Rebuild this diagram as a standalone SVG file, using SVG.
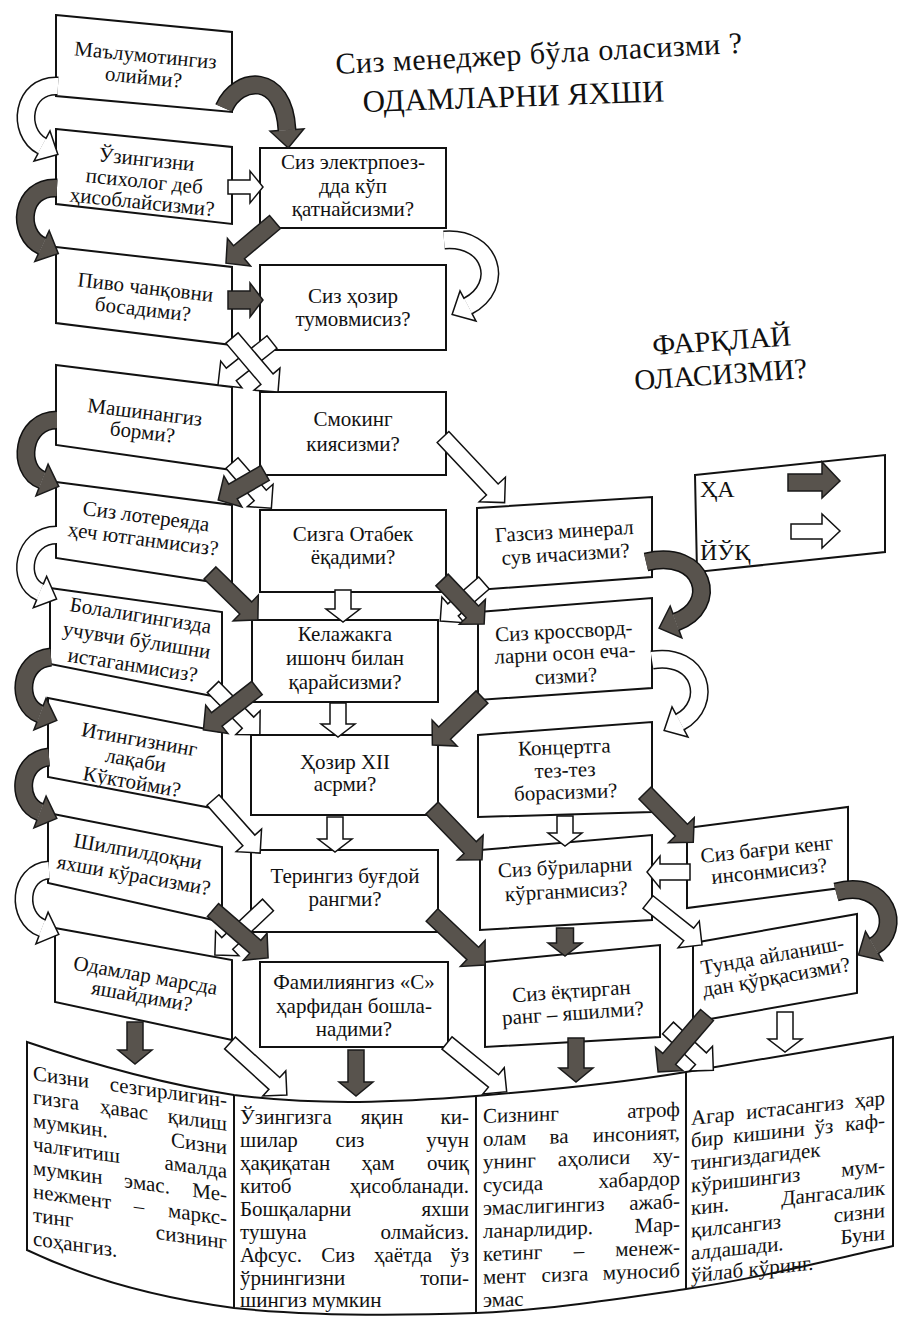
<svg xmlns="http://www.w3.org/2000/svg" width="901" height="1323" viewBox="0 0 901 1323">
<style>
text{font-family:"Liberation Serif","Times New Roman",serif;fill:#111}
.bx{fill:#fff;stroke:#111;stroke-width:2}
.t{font-size:21px;text-anchor:middle}
.p{font-size:21px}
.e{text-anchor:end}
.m{text-anchor:middle}
.dk{fill:#58534d;stroke:#1a1a1a;stroke-width:1.5}
.wt{fill:#fff;stroke:#111;stroke-width:1.5}
.so{fill:none;stroke:#111;stroke-width:19}
.sd{fill:none;stroke:#58534d;stroke-width:16}
.sw{fill:none;stroke:#fff;stroke-width:16}
</style>
<defs><path id="hd" d="M0,-8 L0,-17 L18,0 L0,17 L0,8"/></defs>
<rect width="901" height="1323" fill="#fff"/>

<g id="titles">
<text x="336" y="74" font-size="30" textLength="407" transform="rotate(-3 336 74)">Сиз менеджер бўла оласизми ?</text>
<text x="363" y="112" font-size="31" transform="rotate(-2 363 112)">ОДАМЛАРНИ ЯХШИ</text>
<text x="653" y="355" font-size="29" transform="rotate(-4 653 355)">ФАРҚЛАЙ</text>
<text x="635" y="390" font-size="29" transform="rotate(-4 635 390)">ОЛАСИЗМИ?</text>
</g>

<g id="n1"><polygon class="bx" points="56,15 232,32 232,112 56,96"/>
<text class="t" transform="rotate(5.5 144 72)"><tspan x="144" y="62">Маълумотингиз</tspan><tspan x="144" y="84">олийми?</tspan></text></g>
<g id="n2"><polygon class="bx" points="56,129 232,147 232,224 56,204"/>
<text class="t" transform="rotate(5.8 144 185)"><tspan x="144" y="166">Ўзингизни</tspan><tspan x="144" y="188">психолог деб</tspan><tspan x="144" y="209">ҳисоблайсизми?</tspan></text></g>
<g id="n3"><polygon class="bx" points="56,247 232,267 232,345 56,323"/>
<text class="t" transform="rotate(6.5 144 300)"><tspan x="144" y="294">Пиво чанқовни</tspan><tspan x="144" y="316">босадими?</tspan></text></g>
<g id="n4"><polygon class="bx" points="56,365 232,387 232,470 56,445"/>
<text class="t" transform="rotate(7 144 420)"><tspan x="144" y="419">Машинангиз</tspan><tspan x="144" y="439">борми?</tspan></text></g>
<g id="n5"><polygon class="bx" points="56,482 232,505 232,585 56,558"/>
<text class="t" transform="rotate(7.5 144 533)"><tspan x="144" y="523">Сиз лотереяда</tspan><tspan x="144" y="546">ҳеч ютганмисиз?</tspan></text></g>
<g id="n6"><polygon class="bx" points="50,588 222,612 222,698 50,664"/>
<text class="t" transform="rotate(9 136 645)"><tspan x="136" y="622">Болалигингизда</tspan><tspan x="136" y="647">учувчи бўлишни</tspan><tspan x="136" y="672">истаганмисиз?</tspan></text></g>
<g id="n7"><polygon class="bx" points="48,698 222,732 222,810 48,777"/>
<text class="t" transform="rotate(10 135 765)"><tspan x="135" y="746">Итингизнинг</tspan><tspan x="135" y="767">лақаби</tspan><tspan x="135" y="789">Кўктойми?</tspan></text></g>
<g id="n8"><polygon class="bx" points="48,813 222,847 222,922 48,883"/>
<text class="t" transform="rotate(10 135 868)"><tspan x="135" y="858">Шилпилдоқни</tspan><tspan x="135" y="882">яхши кўрасизми?</tspan></text></g>
<g id="n9"><polygon class="bx" points="55,928 232,960 232,1040 55,1002"/>
<text class="t" transform="rotate(10 143 990)"><tspan x="143" y="982">Одамлар марсда</tspan><tspan x="143" y="1003">яшайдими?</tspan></text></g>

<g id="nA"><rect class="bx" x="260" y="148" width="186" height="80"/>
<text class="t"><tspan x="353" y="169">Сиз электрпоез-</tspan><tspan x="353" y="193">дда кўп</tspan><tspan x="353" y="216">қатнайсизми?</tspan></text></g>
<g id="nB"><rect class="bx" x="260" y="265" width="186" height="85"/>
<text class="t"><tspan x="353" y="303">Сиз ҳозир</tspan><tspan x="353" y="326">тумовмисиз?</tspan></text></g>
<g id="nC"><rect class="bx" x="260" y="392" width="186" height="83"/>
<text class="t"><tspan x="353" y="426">Смокинг</tspan><tspan x="353" y="451">киясизми?</tspan></text></g>
<g id="nD"><rect class="bx" x="260" y="510" width="186" height="82"/>
<text class="t"><tspan x="353" y="541">Сизга Отабек</tspan><tspan x="353" y="564">ёқадими?</tspan></text></g>
<g id="nF"><rect class="bx" x="252" y="620" width="186" height="82"/>
<text class="t"><tspan x="345" y="641">Келажакга</tspan><tspan x="345" y="665">ишонч билан</tspan><tspan x="345" y="689">қарайсизми?</tspan></text></g>
<g id="nG"><rect class="bx" x="251" y="735" width="187" height="80"/>
<text class="t"><tspan x="345" y="769">Ҳозир XII</tspan><tspan x="345" y="791">асрми?</tspan></text></g>
<g id="nH"><rect class="bx" x="251" y="850" width="187" height="82"/>
<text class="t"><tspan x="345" y="883">Терингиз буғдой</tspan><tspan x="345" y="906">рангми?</tspan></text></g>
<g id="nI"><rect class="bx" x="260" y="962" width="188" height="85"/>
<text class="t"><tspan x="354" y="989">Фамилиянгиз «С»</tspan><tspan x="354" y="1013">ҳарфидан бошла-</tspan><tspan x="354" y="1036">надими?</tspan></text></g>

<g id="nE"><polygon class="bx" points="477,508 652,497 652,577 477,590"/>
<text class="t" transform="rotate(-3.5 565 545)"><tspan x="565" y="538">Газсиз минерал</tspan><tspan x="565" y="561">сув ичасизми?</tspan></text></g>
<g id="nJ"><polygon class="bx" points="478,612 652,598 652,688 478,700"/>
<text class="t" transform="rotate(-3 565 655)"><tspan x="565" y="638">Сиз кроссворд-</tspan><tspan x="565" y="660">ларни осон еча-</tspan><tspan x="565" y="683">сизми?</tspan></text></g>
<g id="nK"><polygon class="bx" points="478,735 652,722 652,812 478,817"/>
<text class="t" transform="rotate(-2 565 770)"><tspan x="565" y="754">Концертга</tspan><tspan x="565" y="777">тез-тез</tspan><tspan x="565" y="799">борасизми?</tspan></text></g>
<g id="nL"><polygon class="bx" points="480,850 652,835 652,920 480,930"/>
<text class="t" transform="rotate(-3 566 885)"><tspan x="566" y="874">Сиз бўриларни</tspan><tspan x="566" y="898">кўрганмисиз?</tspan></text></g>
<g id="nM"><polygon class="bx" points="485,962 660,945 660,1037 485,1047"/>
<text class="t" transform="rotate(-4 572 1000)"><tspan x="572" y="998">Сиз ёқтирган</tspan><tspan x="572" y="1020">ранг – яшилми?</tspan></text></g>
<g id="nN"><polygon class="bx" points="687,828 848,807 848,887 687,908"/>
<text class="t" transform="rotate(-6 768 860)"><tspan x="768" y="856">Сиз бағри кенг</tspan><tspan x="768" y="878">инсонмисиз?</tspan></text></g>
<g id="nO"><polygon class="bx" points="693,943 857,914 857,993 693,1022"/>
<text class="t" transform="rotate(-10 775 970)"><tspan x="775" y="962">Тунда айланиш-</tspan><tspan x="775" y="984">дан қўрқасизми?</tspan></text></g>

<g id="legend"><polygon class="bx" points="695,475 885,455 885,552 697,572"/>
<text x="700" y="497" font-size="24">ҲА</text>
<text x="700" y="560" font-size="24">ЙЎҚ</text>
<path class="dk" d="M788,474 H822 V462 L840,481 L822,498 V491 H788 Z"/>
<path class="wt" d="M791,524 H822 V514 L840,531 L822,548 V539 H791 Z"/>
</g>

<g id="results">
<path class="bx" d="M27,1042 C100,1067 170,1085 234,1095 C320,1106 400,1102 476,1096 C550,1090 620,1083 686,1072 C760,1060 830,1048 893,1037 L893,1246 C820,1262 760,1278 686,1289 C610,1300 545,1310 476,1313 C390,1316 310,1316 234,1308 C160,1298 90,1280 27,1250 Z"/>
<path d="M234,1095 V1308 M476,1096 V1313 M686,1072 V1289" fill="none" stroke="#111" stroke-width="2"/>
<g transform="translate(33,1080) skewY(8)">
<text class="p"><tspan x="0" y="0">Сизни</tspan><tspan class="e" x="194" y="0">сезгирлигин-</tspan></text>
<text class="p"><tspan x="0" y="23.6">гизга</tspan><tspan class="m" x="91" y="23.6">ҳавас</tspan><tspan class="e" x="194" y="23.6">қилиш</tspan></text>
<text class="p"><tspan x="0" y="47.2">мумкин.</tspan><tspan class="e" x="194" y="47.2">Сизни</tspan></text>
<text class="p"><tspan x="0" y="70.8">чалғитиш</tspan><tspan class="e" x="194" y="70.8">амалда</tspan></text>
<text class="p"><tspan x="0" y="94.4">мумкин</tspan><tspan class="m" x="114" y="94.4">эмас.</tspan><tspan class="e" x="194" y="94.4">Ме-</tspan></text>
<text class="p"><tspan x="0" y="118">нежмент</tspan><tspan class="m" x="106" y="118">–</tspan><tspan class="e" x="194" y="118">маркс-</tspan></text>
<text class="p"><tspan x="0" y="141.6">тинг</tspan><tspan class="e" x="194" y="141.6">сизнинг</tspan></text>
<text class="p" x="0" y="165.2">соҳангиз.</text>
</g>
<g>
<text class="p"><tspan x="240" y="1124">Ўзингизга</tspan><tspan class="m" x="382" y="1124">яқин</tspan><tspan class="e" x="469" y="1124">ки-</tspan></text>
<text class="p"><tspan x="240" y="1147">шилар</tspan><tspan class="m" x="350" y="1147">сиз</tspan><tspan class="e" x="469" y="1147">учун</tspan></text>
<text class="p"><tspan x="240" y="1170">ҳақиқатан</tspan><tspan class="m" x="378" y="1170">ҳам</tspan><tspan class="e" x="469" y="1170">очиқ</tspan></text>
<text class="p"><tspan x="240" y="1193">китоб</tspan><tspan class="e" x="469" y="1193">ҳисобланади.</tspan></text>
<text class="p"><tspan x="240" y="1216">Бошқаларни</tspan><tspan class="e" x="469" y="1216">яхши</tspan></text>
<text class="p"><tspan x="240" y="1239">тушуна</tspan><tspan class="e" x="469" y="1239">олмайсиз.</tspan></text>
<text class="p"><tspan x="240" y="1262">Афсус.</tspan><tspan class="m" x="338" y="1262">Сиз</tspan><tspan class="m" x="403" y="1262">ҳаётда</tspan><tspan class="e" x="469" y="1262">ўз</tspan></text>
<text class="p"><tspan x="240" y="1285">ўрнингизни</tspan><tspan class="e" x="469" y="1285">топи-</tspan></text>
<text class="p" x="240" y="1307">шингиз мумкин</text>
</g>
<g transform="translate(483,1123) skewY(-2)">
<text class="p"><tspan x="0" y="0">Сизнинг</tspan><tspan class="e" x="197" y="0">атроф</tspan></text>
<text class="p"><tspan x="0" y="23">олам</tspan><tspan class="m" x="76" y="23">ва</tspan><tspan class="e" x="197" y="23">инсоният,</tspan></text>
<text class="p"><tspan x="0" y="46">унинг</tspan><tspan class="m" x="111" y="46">аҳолиси</tspan><tspan class="e" x="197" y="46">ху-</tspan></text>
<text class="p"><tspan x="0" y="69">сусида</tspan><tspan class="e" x="197" y="69">хабардор</tspan></text>
<text class="p"><tspan x="0" y="92">эмаслигингиз</tspan><tspan class="e" x="197" y="92">ажаб-</tspan></text>
<text class="p"><tspan x="0" y="115">ланарлидир.</tspan><tspan class="e" x="197" y="115">Мар-</tspan></text>
<text class="p"><tspan x="0" y="138">кетинг</tspan><tspan class="m" x="96" y="138">–</tspan><tspan class="e" x="197" y="138">менеж-</tspan></text>
<text class="p"><tspan x="0" y="161">мент</tspan><tspan class="m" x="82" y="161">сизга</tspan><tspan class="e" x="197" y="161">муносиб</tspan></text>
<text class="p" x="0" y="184">эмас</text>
</g>
<g transform="translate(691,1125) skewY(-6)">
<text class="p"><tspan x="0" y="0">Агар</tspan><tspan class="m" x="104" y="0">истасангиз</tspan><tspan class="e" x="194" y="0">ҳар</tspan></text>
<text class="p"><tspan x="0" y="22.5">бир</tspan><tspan class="m" x="78" y="22.5">кишини</tspan><tspan class="m" x="133" y="22.5">ўз</tspan><tspan class="e" x="194" y="22.5">каф-</tspan></text>
<text class="p" x="0" y="45">тингиздагидек</text>
<text class="p"><tspan x="0" y="67.5">кўришингиз</tspan><tspan class="e" x="194" y="67.5">мум-</tspan></text>
<text class="p"><tspan x="0" y="90">кин.</tspan><tspan class="e" x="194" y="90">Дангасалик</tspan></text>
<text class="p"><tspan x="0" y="112.5">қилсангиз</tspan><tspan class="e" x="194" y="112.5">сизни</tspan></text>
<text class="p"><tspan x="0" y="135">алдашади.</tspan><tspan class="e" x="194" y="135">Буни</tspan></text>
<text class="p" x="0" y="157.5">ўйлаб кўринг.</text>
</g>
</g>

<g id="connectors">
<path class="so" d="M58,86 C22,84 16,132 42,146"/><use href="#hd" class="wt" transform="translate(42,146) rotate(28)"/><path class="sw" d="M58,86 C22,84 16,132 42,146"/>
<path class="so" d="M224,108 C238,76 284,72 287,130"/><use href="#hd" class="dk" transform="translate(287,130) rotate(86)"/><path class="sd" d="M224,108 C238,76 284,72 287,130"/>
<path class="so" d="M57,188 C20,186 16,234 42,246"/><use href="#hd" class="dk" transform="translate(42,246) rotate(25)"/><path class="sd" d="M57,188 C20,186 16,234 42,246"/>
<path class="so" d="M444,240 C492,236 506,286 468,306"/><use href="#hd" class="wt" transform="translate(468,306) rotate(152)"/><path class="sw" d="M444,240 C492,236 506,286 468,306"/>
<path class="so" d="M57,420 C22,420 16,470 42,480"/><use href="#hd" class="dk" transform="translate(42,480) rotate(21)"/><path class="sd" d="M57,420 C22,420 16,470 42,480"/>
<path class="so" d="M57,535 C22,535 16,582 40,592"/><use href="#hd" class="wt" transform="translate(40,592) rotate(23)"/><path class="sw" d="M57,535 C22,535 16,582 40,592"/>
<path class="so" d="M646,562 C705,548 720,606 676,622"/><use href="#hd" class="dk" transform="translate(676,622) rotate(160)"/><path class="sd" d="M646,562 C705,548 720,606 676,622"/>
<path class="so" d="M51,657 C18,660 16,705 40,714"/><use href="#hd" class="dk" transform="translate(40,714) rotate(21)"/><path class="sd" d="M51,657 C18,660 16,705 40,714"/>
<path class="so" d="M652,660 C702,652 714,704 680,722"/><use href="#hd" class="wt" transform="translate(680,722) rotate(152)"/><path class="sw" d="M652,660 C702,652 714,704 680,722"/>
<path class="so" d="M49,757 C18,760 16,803 40,812"/><use href="#hd" class="dk" transform="translate(40,812) rotate(21)"/><path class="sd" d="M49,757 C18,760 16,803 40,812"/>
<path class="so" d="M49,870 C18,872 16,918 42,928"/><use href="#hd" class="wt" transform="translate(42,928) rotate(21)"/><path class="sw" d="M49,870 C18,872 16,918 42,928"/>
<path class="so" d="M836,892 C888,878 902,930 874,946"/><use href="#hd" class="dk" transform="translate(874,946) rotate(150)"/><path class="sd" d="M836,892 C888,878 902,930 874,946"/>
<path class="wt" transform="translate(228,187)" d="M0,-7 H22 V-16 L35,0 L22,16 V7 H0 Z"/>
<path class="dk" transform="translate(275,222) rotate(140)" d="M0,-8.5 H47 V-18 L64,0 L47,18 V8.5 H0 Z"/>
<path class="dk" transform="translate(228,300)" d="M0,-9 H22 V-17 L35,0 L22,17 V9 H0 Z"/>
<path class="wt" transform="translate(272,342) rotate(141.5)" d="M0,-8 H52 V-17 L69,0 L52,17 V8 H0 Z"/>
<path class="wt" transform="translate(232,338) rotate(49.6)" d="M0,-8 H54 V-17 L71,0 L54,17 V8 H0 Z"/>
<path class="wt" transform="translate(232,463) rotate(49)" d="M0,-8 H43 V-17 L60,0 L43,17 V8 H0 Z"/>
<path class="dk" transform="translate(265,473) rotate(150)" d="M0,-8.5 H37 V-18 L54,0 L37,18 V8.5 H0 Z"/>
<path class="wt" transform="translate(443,437) rotate(46.8)" d="M0,-8 H72 V-18 L90,0 L72,18 V8 H0 Z"/>
<path class="dk" transform="translate(210,573) rotate(44.4)" d="M0,-8.5 H50 V-18 L67,0 L50,18 V8.5 H0 Z"/>
<path class="wt" transform="translate(343,590) rotate(90)" d="M0,-8 H19 V-17 L32,0 L19,17 V8 H0 Z"/>
<path class="wt" transform="translate(484,583) rotate(139)" d="M0,-8 H41 V-17 L58,0 L41,17 V8 H0 Z"/>
<path class="dk" transform="translate(442,580) rotate(46.3)" d="M0,-8.5 H44 V-18 L61,0 L44,18 V8.5 H0 Z"/>
<path class="wt" transform="translate(213,687) rotate(45.6)" d="M0,-8 H50 V-17 L67,0 L50,17 V8 H0 Z"/>
<path class="dk" transform="translate(257,688) rotate(142)" d="M0,-8.5 H51 V-18 L68,0 L51,18 V8.5 H0 Z"/>
<path class="wt" transform="translate(338,703) rotate(90)" d="M0,-8 H21 V-17 L34,0 L21,17 V8 H0 Z"/>
<path class="dk" transform="translate(482,697) rotate(136)" d="M0,-8.5 H52 V-18 L69,0 L52,18 V8.5 H0 Z"/>
<path class="wt" transform="translate(213,800) rotate(48.4)" d="M0,-8 H54 V-17 L71,0 L54,17 V8 H0 Z"/>
<path class="wt" transform="translate(335,817) rotate(90)" d="M0,-8 H22 V-17 L35,0 L22,17 V8 H0 Z"/>
<path class="dk" transform="translate(432,808) rotate(46)" d="M0,-8.5 H55 V-18 L72,0 L55,18 V8.5 H0 Z"/>
<path class="wt" transform="translate(565,816) rotate(90)" d="M0,-8 H17 V-17 L30,0 L17,17 V8 H0 Z"/>
<path class="dk" transform="translate(645,793) rotate(45.6)" d="M0,-8.5 H52 V-18 L69,0 L52,18 V8.5 H0 Z"/>
<path class="wt" transform="translate(690,872) rotate(180)" d="M0,-8 H30 V-16 L43,0 L30,16 V8 H0 Z"/>
<path class="wt" transform="translate(648,902) rotate(38.5)" d="M0,-8 H52 V-17 L69,0 L52,17 V8 H0 Z"/>
<path class="wt" transform="translate(268,905) rotate(136.7)" d="M0,-8 H56 V-17 L73,0 L56,17 V8 H0 Z"/>
<path class="dk" transform="translate(213,910) rotate(41)" d="M0,-8.5 H56 V-18 L73,0 L56,18 V8.5 H0 Z"/>
<path class="dk" transform="translate(432,915) rotate(43.3)" d="M0,-8.5 H56 V-18 L73,0 L56,18 V8.5 H0 Z"/>
<path class="dk" transform="translate(565,928) rotate(90)" d="M0,-8.5 H15 V-17 L28,0 L15,17 V8.5 H0 Z"/>
<path class="dk" transform="translate(135,1022) rotate(90)" d="M0,-8 H28 V-17 L42,0 L28,17 V8 H0 Z"/>
<path class="wt" transform="translate(230,1043) rotate(42.4)" d="M0,-8 H60 V-17 L77,0 L60,17 V8 H0 Z"/>
<path class="dk" transform="translate(356,1050) rotate(90)" d="M0,-8 H32 V-17 L46,0 L32,17 V8 H0 Z"/>
<path class="wt" transform="translate(447,1043) rotate(39.2)" d="M0,-8 H60 V-17 L77,0 L60,17 V8 H0 Z"/>
<path class="dk" transform="translate(576,1038) rotate(90)" d="M0,-8 H30 V-17 L44,0 L30,17 V8 H0 Z"/>
<path class="wt" transform="translate(668,1028) rotate(43)" d="M0,-8 H45 V-17 L62,0 L45,17 V8 H0 Z"/>
<path class="dk" transform="translate(707,1015) rotate(130.7)" d="M0,-8.5 H58 V-18 L75,0 L58,18 V8.5 H0 Z"/>
<path class="wt" transform="translate(785,1012) rotate(90)" d="M0,-8 H27 V-17 L40,0 L27,17 V8 H0 Z"/>
</g>
</svg>
